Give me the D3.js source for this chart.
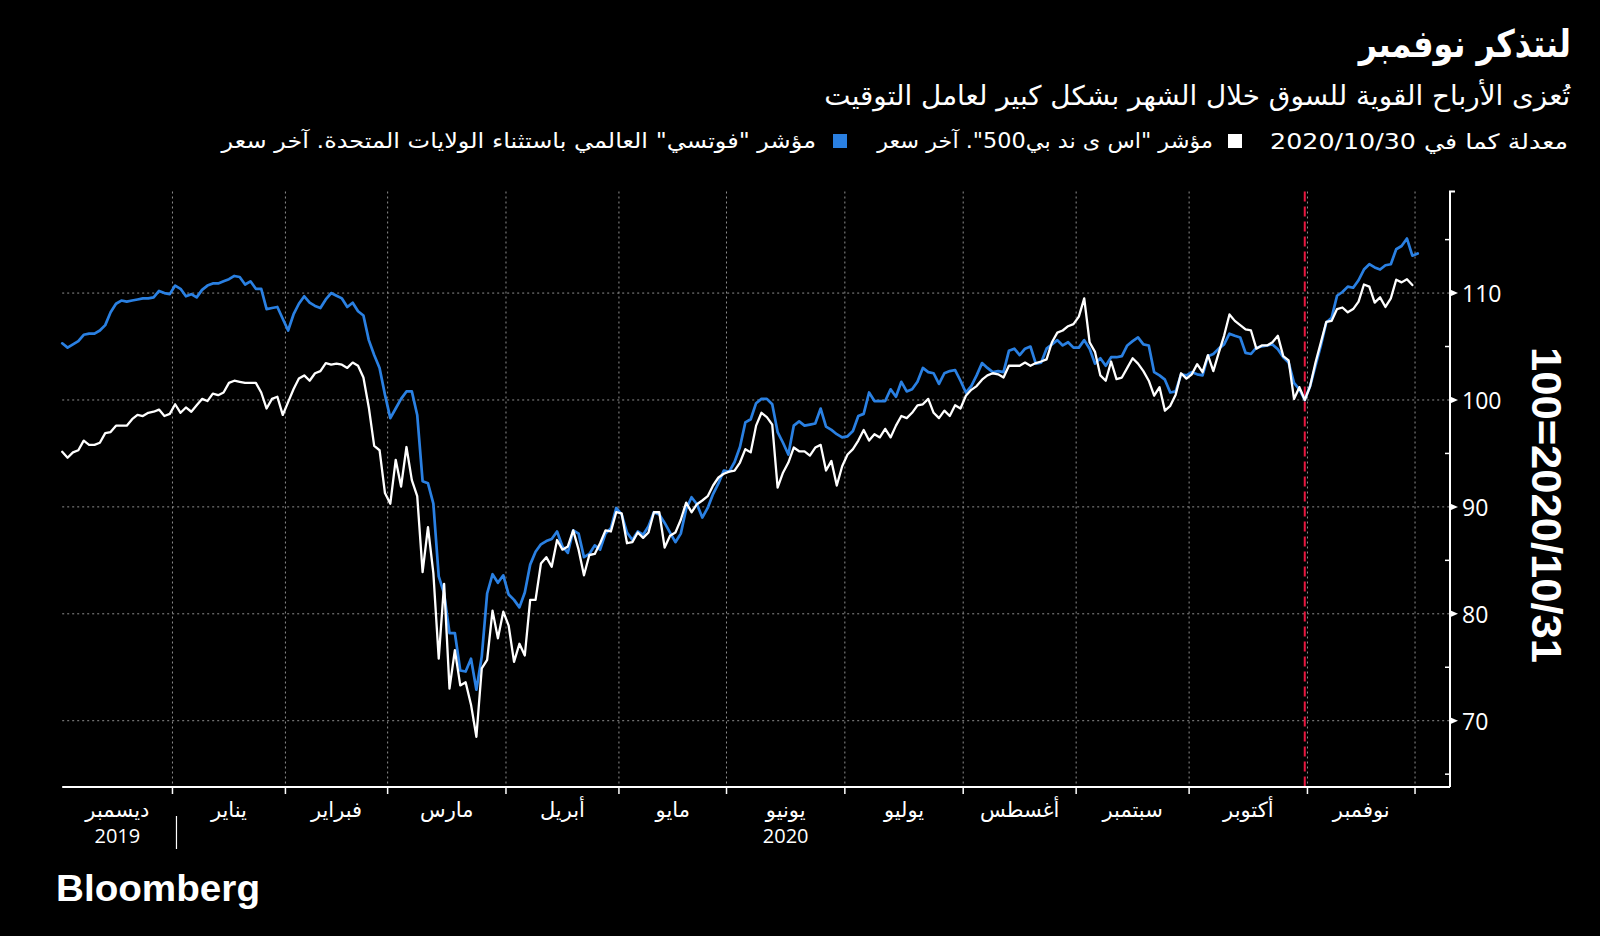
<!DOCTYPE html>
<html><head><meta charset="utf-8">
<script src="https://cdn.jsdelivr.net/npm/d3@7"></script>
<style>
html,body{margin:0;padding:0;background:#000;}
svg{display:block;}
</style></head>
<body>
<svg id="chart" width="1600" height="936"></svg>
<script>
// ---------------- data ----------------
const titleText = "لنتذكر نوفمبر";
const subtitleText = "تُعزى الأرباح القوية للسوق خلال الشهر بشكل كبير لعامل التوقيت";
const legendNote = "معدلة كما في 2020/10/30";
const seriesNames = ['مؤشر "اس ى ند بي500". آخر سعر', 'مؤشر "فوتسي" العالمي باستثناء الولايات المتحدة. آخر سعر'];
const monthLabels = ["ديسمبر","يناير","فبراير","مارس","أبريل","مايو","يونيو","يوليو","أغسطس","سبتمبر","أكتوبر","نوفمبر"];
const yearLabels = ["2019", "", "", "", "", "", "2020", "", "", "", "", ""];
const yTicks = [70, 80, 90, 100, 110];
const yMinorTicks = [65, 75, 85, 95, 105, 115];
const yAxisTitle = "100=2020/10/31";
const baseDate = "2020-10-30";
const brand = "Bloomberg";

const dates = [
"2019-12-02","2019-12-03","2019-12-04","2019-12-05","2019-12-06","2019-12-09","2019-12-10","2019-12-11","2019-12-12","2019-12-13","2019-12-16","2019-12-17","2019-12-18","2019-12-19","2019-12-20","2019-12-23","2019-12-24","2019-12-26","2019-12-27","2019-12-30","2019-12-31",
"2020-01-02","2020-01-03","2020-01-06","2020-01-07","2020-01-08","2020-01-09","2020-01-10","2020-01-13","2020-01-14","2020-01-15","2020-01-16","2020-01-17","2020-01-21","2020-01-22","2020-01-23","2020-01-24","2020-01-27","2020-01-28","2020-01-29","2020-01-30","2020-01-31",
"2020-02-03","2020-02-04","2020-02-05","2020-02-06","2020-02-07","2020-02-10","2020-02-11","2020-02-12","2020-02-13","2020-02-14","2020-02-18","2020-02-19","2020-02-20","2020-02-21","2020-02-24","2020-02-25","2020-02-26","2020-02-27","2020-02-28",
"2020-03-02","2020-03-03","2020-03-04","2020-03-05","2020-03-06","2020-03-09","2020-03-10","2020-03-11","2020-03-12","2020-03-13","2020-03-16","2020-03-17","2020-03-18","2020-03-19","2020-03-20","2020-03-23","2020-03-24","2020-03-25","2020-03-26","2020-03-27","2020-03-30","2020-03-31",
"2020-04-01","2020-04-02","2020-04-03","2020-04-06","2020-04-07","2020-04-08","2020-04-09","2020-04-13","2020-04-14","2020-04-15","2020-04-16","2020-04-17","2020-04-20","2020-04-21","2020-04-22","2020-04-23","2020-04-24","2020-04-27","2020-04-28","2020-04-29","2020-04-30",
"2020-05-01","2020-05-04","2020-05-05","2020-05-06","2020-05-07","2020-05-08","2020-05-11","2020-05-12","2020-05-13","2020-05-14","2020-05-15","2020-05-18","2020-05-19","2020-05-20","2020-05-21","2020-05-22","2020-05-26","2020-05-27","2020-05-28","2020-05-29",
"2020-06-01","2020-06-02","2020-06-03","2020-06-04","2020-06-05","2020-06-08","2020-06-09","2020-06-10","2020-06-11","2020-06-12","2020-06-15","2020-06-16","2020-06-17","2020-06-18","2020-06-19","2020-06-22","2020-06-23","2020-06-24","2020-06-25","2020-06-26","2020-06-29","2020-06-30",
"2020-07-01","2020-07-02","2020-07-06","2020-07-07","2020-07-08","2020-07-09","2020-07-10","2020-07-13","2020-07-14","2020-07-15","2020-07-16","2020-07-17","2020-07-20","2020-07-21","2020-07-22","2020-07-23","2020-07-24","2020-07-27","2020-07-28","2020-07-29","2020-07-30","2020-07-31",
"2020-08-03","2020-08-04","2020-08-05","2020-08-06","2020-08-07","2020-08-10","2020-08-11","2020-08-12","2020-08-13","2020-08-14","2020-08-17","2020-08-18","2020-08-19","2020-08-20","2020-08-21","2020-08-24","2020-08-25","2020-08-26","2020-08-27","2020-08-28","2020-08-31",
"2020-09-01","2020-09-02","2020-09-03","2020-09-04","2020-09-08","2020-09-09","2020-09-10","2020-09-11","2020-09-14","2020-09-15","2020-09-16","2020-09-17","2020-09-18","2020-09-21","2020-09-22","2020-09-23","2020-09-24","2020-09-25","2020-09-28","2020-09-29","2020-09-30",
"2020-10-01","2020-10-02","2020-10-05","2020-10-06","2020-10-07","2020-10-08","2020-10-09","2020-10-12","2020-10-13","2020-10-14","2020-10-15","2020-10-16","2020-10-19","2020-10-20","2020-10-21","2020-10-22","2020-10-23","2020-10-26","2020-10-27","2020-10-28","2020-10-29","2020-10-30",
"2020-11-02","2020-11-03","2020-11-04","2020-11-05","2020-11-06","2020-11-09","2020-11-10","2020-11-11","2020-11-12","2020-11-13","2020-11-16","2020-11-17","2020-11-18","2020-11-19","2020-11-20","2020-11-23","2020-11-24","2020-11-25","2020-11-27","2020-11-30",
"2020-12-01"
];

// S&P 500, rebased 100 = 2020/10/30 (white)
const spx = [
95.15,94.6,95.1,95.3,96.2,95.8,95.8,96.0,96.9,97.0,97.6,97.6,97.6,98.2,98.6,98.5,98.8,98.9,99.1,98.5,98.7,
99.6,98.8,99.3,98.9,99.5,100.1,99.9,100.6,100.45,100.7,101.6,101.8,101.7,101.6,101.6,101.6,100.7,99.2,100.1,100.3,98.6,
99.8,101.0,102.0,102.3,101.8,102.5,102.7,103.45,103.3,103.4,103.3,103.0,103.5,103.2,102.1,99.3,95.7,95.3,91.3,
90.3,94.4,91.9,95.6,92.5,91.0,83.9,88.1,83.8,75.8,82.8,73.0,76.6,73.3,73.6,71.5,68.5,74.9,75.7,80.3,77.7,80.2,
78.9,75.5,77.2,76.1,81.3,81.3,84.7,85.3,84.4,86.9,86.0,86.3,87.8,86.0,83.6,85.5,85.6,86.6,87.8,87.7,89.5,
89.4,86.6,86.7,87.6,87.1,87.6,89.5,89.5,86.2,87.3,87.6,88.8,90.4,89.5,90.25,90.6,91.0,92.0,92.75,93.1,
93.3,93.4,94.15,95.4,95.1,97.6,98.8,98.4,97.7,91.8,93.2,94.15,95.55,95.2,95.2,94.8,95.55,95.8,93.4,94.3,92.0,93.8,
94.9,95.4,96.2,97.2,96.2,96.8,96.5,97.3,96.5,97.6,98.5,98.3,98.8,99.5,99.6,100.1,98.8,98.3,99.0,98.5,99.5,99.2,
100.4,100.95,101.3,101.9,102.3,102.5,102.4,102.1,103.2,103.2,103.2,103.5,103.2,103.45,103.6,103.8,105.4,106.3,106.5,106.9,107.1,
107.8,109.5,105.4,104.5,102.3,101.8,103.6,101.95,102.1,103.0,103.9,103.4,102.7,101.8,100.4,101.2,99.0,99.45,100.5,102.5,102.0,
102.4,103.35,102.6,104.2,102.7,104.4,106.0,108.0,107.4,107.0,106.6,106.5,104.8,105.1,105.1,105.4,106.0,104.1,103.7,100.1,101.2,100.0,
101.3,103.5,105.4,107.3,107.4,108.5,108.65,108.2,108.5,109.2,110.8,110.6,109.1,109.6,108.7,109.5,111.25,111.0,111.3,110.75,
null
];

// FTSE All-World ex US, rebased 100 = 2020/10/30 (blue)
const ftse = [
105.3,104.9,105.2,105.5,106.1,106.2,106.2,106.5,107.0,108.2,109.0,109.3,109.2,109.3,109.4,109.5,109.5,109.6,110.2,110.0,109.9,
110.7,110.4,109.7,109.9,109.6,110.3,110.7,110.9,110.9,111.1,111.3,111.6,111.5,110.8,111.1,110.4,110.4,108.5,108.6,108.7,107.6,
106.5,108.0,109.0,109.7,109.1,108.8,108.6,109.4,110.0,109.75,109.5,108.7,109.1,108.3,107.9,105.6,104.2,103.0,100.5,
98.3,99.2,100.1,100.8,100.8,98.6,92.4,92.2,90.3,83.5,81.9,78.2,78.2,74.7,74.6,75.8,72.9,76.0,81.9,83.7,82.9,83.6,
81.8,81.3,80.6,82.0,84.6,85.8,86.5,86.8,87.0,87.7,86.3,85.7,87.8,87.5,85.3,85.6,86.4,86.0,87.5,88.0,89.9,
89.3,87.6,86.9,87.7,87.4,88.2,89.5,89.3,88.5,87.6,86.7,87.5,89.8,90.9,90.25,89.0,89.9,91.2,92.2,93.4,
93.3,94.2,95.6,97.9,98.2,99.7,100.1,100.1,99.6,97.0,96.0,94.9,97.6,98.0,97.6,97.7,97.8,99.2,97.5,97.2,96.8,96.5,
96.6,97.1,98.5,98.7,100.7,99.9,99.9,99.9,101.0,100.3,101.7,100.8,101.0,101.7,103.0,102.6,102.5,101.5,102.5,102.7,102.8,101.8,
100.7,101.3,102.3,103.45,103.0,102.6,102.7,102.6,104.6,104.8,104.2,104.8,105.0,103.4,103.5,104.8,105.2,105.6,105.1,105.4,104.9,
104.9,105.6,104.8,103.4,103.9,103.2,104.0,104.0,104.1,105.1,105.5,105.85,105.2,105.1,102.6,102.3,101.9,100.7,100.8,102.4,102.3,
102.6,102.4,102.3,104.1,104.3,104.8,105.2,106.2,106.0,105.85,104.4,104.3,104.9,105.0,105.1,105.2,104.75,104.0,103.5,101.6,101.0,100.0,
101.3,103.2,105.1,107.25,107.7,109.75,110.1,110.6,110.5,111.2,112.2,112.7,112.4,112.2,112.6,112.7,114.1,114.4,115.1,113.5,
113.7
];

// ---------------- drawing ----------------
const svg = d3.select("#chart");
svg.append("rect").attr("width", 1600).attr("height", 936).attr("fill", "#000");

const W = {left: 62.2, right: 1450, top: 191.5, bottom: 787};
const BLUE = "#2a80e2";
const GRID = "#8e8e8e";
const arFont = "'DejaVu Sans', sans-serif";
const numFont = "'Open Sans', 'Noto Sans', sans-serif";

const x = d3.scaleLinear().domain([0, 258]).range([W.left, W.right]);
const y = d3.scaleLinear().domain([63.8, 119.5]).range([W.bottom, W.top]);

// month boundaries (between last trading day of a month and the first of the next)
const bounds = [];
for (let i = 1; i < dates.length; i++) {
  if (dates[i].slice(0, 7) !== dates[i - 1].slice(0, 7)) bounds.push(i - 0.5);
}

// horizontal grid
svg.append("g").selectAll("line").data(yTicks).join("line")
  .attr("x1", W.left).attr("x2", W.right)
  .attr("y1", d => y(d)).attr("y2", d => y(d))
  .attr("stroke", GRID).attr("stroke-width", 1).attr("stroke-dasharray", "2,3");

// vertical grid
svg.append("g").selectAll("line").data(bounds).join("line")
  .attr("x1", d => x(d)).attr("x2", d => x(d))
  .attr("y1", W.top).attr("y2", W.bottom)
  .attr("stroke", GRID).attr("stroke-width", 1).attr("stroke-dasharray", "2,3");

// red reference line
const bi = dates.indexOf(baseDate);
svg.append("line")
  .attr("x1", x(bi)).attr("x2", x(bi)).attr("y1", W.top).attr("y2", W.bottom)
  .attr("stroke", "#e8173f").attr("stroke-width", 2).attr("stroke-dasharray", "10,5");

// lines
const line = d3.line().defined(d => d != null).x((d, i) => x(i)).y(d => y(d));
svg.append("path").datum(ftse).attr("d", line)
  .attr("fill", "none").attr("stroke", BLUE).attr("stroke-width", 2.7)
  .attr("stroke-linejoin", "round").attr("stroke-linecap", "round");
svg.append("path").datum(spx).attr("d", line)
  .attr("fill", "none").attr("stroke", "#ffffff").attr("stroke-width", 2.3)
  .attr("stroke-linejoin", "round").attr("stroke-linecap", "round");

// x axis
svg.append("line").attr("x1", W.left).attr("x2", W.right).attr("y1", W.bottom).attr("y2", W.bottom)
  .attr("stroke", "#fff").attr("stroke-width", 2);
svg.append("g").selectAll("line").data(bounds).join("line")
  .attr("x1", d => x(d)).attr("x2", d => x(d)).attr("y1", W.bottom).attr("y2", W.bottom + 7)
  .attr("stroke", "#fff").attr("stroke-width", 1.5);

const edges = [W.left, ...bounds.map(b => x(b))];
const mids = monthLabels.map((m, k) => (edges[k] + edges[k + 1]) / 2);
svg.append("g").selectAll("text").data(monthLabels).join("text")
  .attr("x", (d, k) => mids[k]).attr("y", 810)
  .attr("text-anchor", "middle").attr("dominant-baseline", "central")
  .attr("direction", "rtl")
  .attr("font-family", arFont).attr("font-size", 21).attr("fill", "#fff")
  .text(d => d);
svg.append("g").selectAll("text").data(yearLabels.map((t, k) => ({t, k})).filter(d => d.t)).join("text")
  .attr("x", d => mids[d.k]).attr("y", 835)
  .attr("text-anchor", "middle").attr("dominant-baseline", "central")
  .attr("font-family", numFont).attr("font-size", 20).attr("fill", "#fff")
  .text(d => d.t);
// year separator
svg.append("line").attr("x1", x(bounds[0]) + 4).attr("x2", x(bounds[0]) + 4)
  .attr("y1", 816).attr("y2", 849).attr("stroke", "#fff").attr("stroke-width", 1.2);

// right y axis
const ax = W.right;
svg.append("path").attr("d", `M${ax},${W.bottom} V${W.top} h5`)
  .attr("fill", "none").attr("stroke", "#fff").attr("stroke-width", 2);
svg.append("g").selectAll("line").data(yMinorTicks).join("line")
  .attr("x1", ax - 5).attr("x2", ax).attr("y1", d => y(d)).attr("y2", d => y(d))
  .attr("stroke", "#fff").attr("stroke-width", 1.5);
svg.append("g").selectAll("path").data(yTicks).join("path")
  .attr("d", d => `M${ax},${y(d) - 3.5} L${ax + 8},${y(d)} L${ax},${y(d) + 3.5} Z`)
  .attr("fill", "#fff");
svg.append("g").selectAll("text").data(yTicks).join("text")
  .attr("x", ax + 12).attr("y", d => y(d))
  .attr("dominant-baseline", "central")
  .attr("font-family", numFont).attr("font-size", 23).attr("fill", "#fff")
  .text(d => d);

// y axis title (rotated)
svg.append("text")
  .attr("transform", "translate(1546,505) rotate(90)")
  .attr("text-anchor", "middle").attr("dominant-baseline", "central")
  .attr("font-family", "'Liberation Sans', Arial, sans-serif").attr("font-weight", "bold")
  .attr("font-size", 42).attr("fill", "#fff")
  .attr("textLength", 316).attr("lengthAdjust", "spacingAndGlyphs")
  .text(yAxisTitle);

// header texts
function fitX(sel, left, right) {
  const b = sel.node().getBBox();
  const s = (right - left) / b.width;
  sel.attr("transform", `translate(${left - b.x * s},0) scale(${s},1)`);
}
function arText(str, yy, size, weight) {
  return svg.append("text").attr("x", 0).attr("y", yy)
    .attr("direction", "rtl").style("unicode-bidi", "embed")
    .attr("dominant-baseline", "central")
    .attr("font-family", arFont).attr("font-size", size)
    .attr("font-weight", weight || "normal").attr("fill", "#fff")
    .text(str);
}
fitX(arText(titleText, 43, 38, "bold"), 1357, 1571);
fitX(arText(subtitleText, 96, 27), 824, 1571);
fitX(arText(legendNote, 141, 21), 1270, 1568);
svg.append("rect").attr("x", 1228).attr("y", 134).attr("width", 14).attr("height", 14).attr("fill", "#fff");
fitX(arText(seriesNames[0], 141, 21), 876, 1213);
svg.append("rect").attr("x", 833).attr("y", 134).attr("width", 14).attr("height", 14).attr("fill", BLUE);
fitX(arText(seriesNames[1], 141, 21), 220, 816);

// brand
svg.append("text").attr("x", 56).attr("y", 901)
  .attr("font-family", "'Liberation Sans', Arial, sans-serif").attr("font-weight", "bold")
  .attr("font-size", 37).attr("fill", "#fff")
  .attr("textLength", 204).attr("lengthAdjust", "spacingAndGlyphs")
  .text(brand);
</script>
</body></html>
